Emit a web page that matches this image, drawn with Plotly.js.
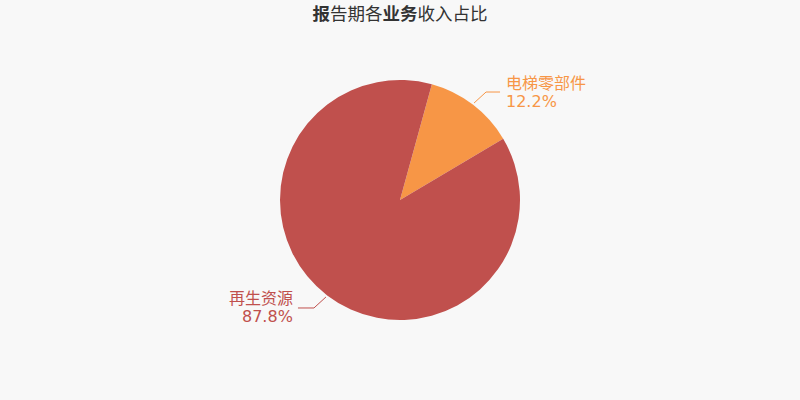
<!DOCTYPE html>
<html>
<head>
<meta charset="utf-8">
<script src="https://cdn.plot.ly/plotly-3.0.1.min.js"></script>
<style>
  body { margin: 0; background: #f8f8f8; }
  #chart { width: 800px; height: 400px; }
</style>
</head>
<body>
<div id="chart"></div>
<script>
const labels = ["电梯零部件", "再生资源"];
const values = [12.2, 87.8];
const colors = ["#f79646", "#c0504d"];

const W = 800, H = 400, top_ = 80, bottom_ = 80;
const cx = 400, cy = 200, R = 120;
const rotation = 15.4;

// label positions follow the slice mid angles
const total = values.reduce((a, b) => a + b, 0);
const annotations = [];
const shapes = [];
let start = rotation;
values.forEach((v, i) => {
  const span = v / total * 360;
  const mid = (start + span / 2) * Math.PI / 180;
  start += span;
  const sx = cx + (R + 2) * Math.sin(mid), sy = cy - (R + 2) * Math.cos(mid);
  const right = Math.sin(mid) >= 0;
  const ex = sx + (right ? 12 : -12), ey = sy + (Math.cos(mid) >= 0 ? -11 : 11);
  const hx = ex + (right ? 14 : -16);
  const px = x => x / W, py = y => 1 - (y - top_) / (H - top_ - bottom_);
  shapes.push({
    type: "path", xref: "paper", yref: "paper",
    path: `M ${px(sx)} ${py(sy)} L ${px(ex)} ${py(ey)} L ${px(hx)} ${py(ey)}`,
    line: { color: colors[i], width: 1 }
  });
  // two lines, kept tighter than plotly's <br> spacing
  [[labels[i], -9], [v.toFixed(1) + "%", 9]].forEach(([t, dy]) => {
    annotations.push({
      xref: "paper", yref: "paper",
      x: px(hx + (right ? 4 : -3)), y: py(ey + dy),
      xanchor: right ? "left" : "right", yanchor: "middle",
      showarrow: false,
      text: t,
      font: { family: "DejaVu Sans, Noto Sans CJK SC", size: 16, color: colors[i] }
    });
  });
});

const data = [{
  type: "pie",
  labels: labels,
  values: values,
  sort: false,
  direction: "clockwise",
  rotation: rotation,
  marker: { colors: colors },
  textinfo: "none",
  hoverinfo: "label+percent"
}];

const layout = {
  width: 800, height: 400,
  paper_bgcolor: "#f8f8f8",
  plot_bgcolor: "#f8f8f8",
  margin: { l: 0, r: 0, t: top_, b: bottom_ },
  showlegend: false,
  title: {
    text: "<b>报</b>告期各<b>业务</b>收入占比",
    x: 0.5, xanchor: "center", y: 0.965, yanchor: "middle",
    font: { family: "DejaVu Sans, Noto Sans CJK SC", size: 17.5, color: "#333333" }
  },
  shapes: shapes,
  annotations: annotations
};

Plotly.newPlot("chart", data, layout, { displayModeBar: false, staticPlot: true });
</script>
</body>
</html>
